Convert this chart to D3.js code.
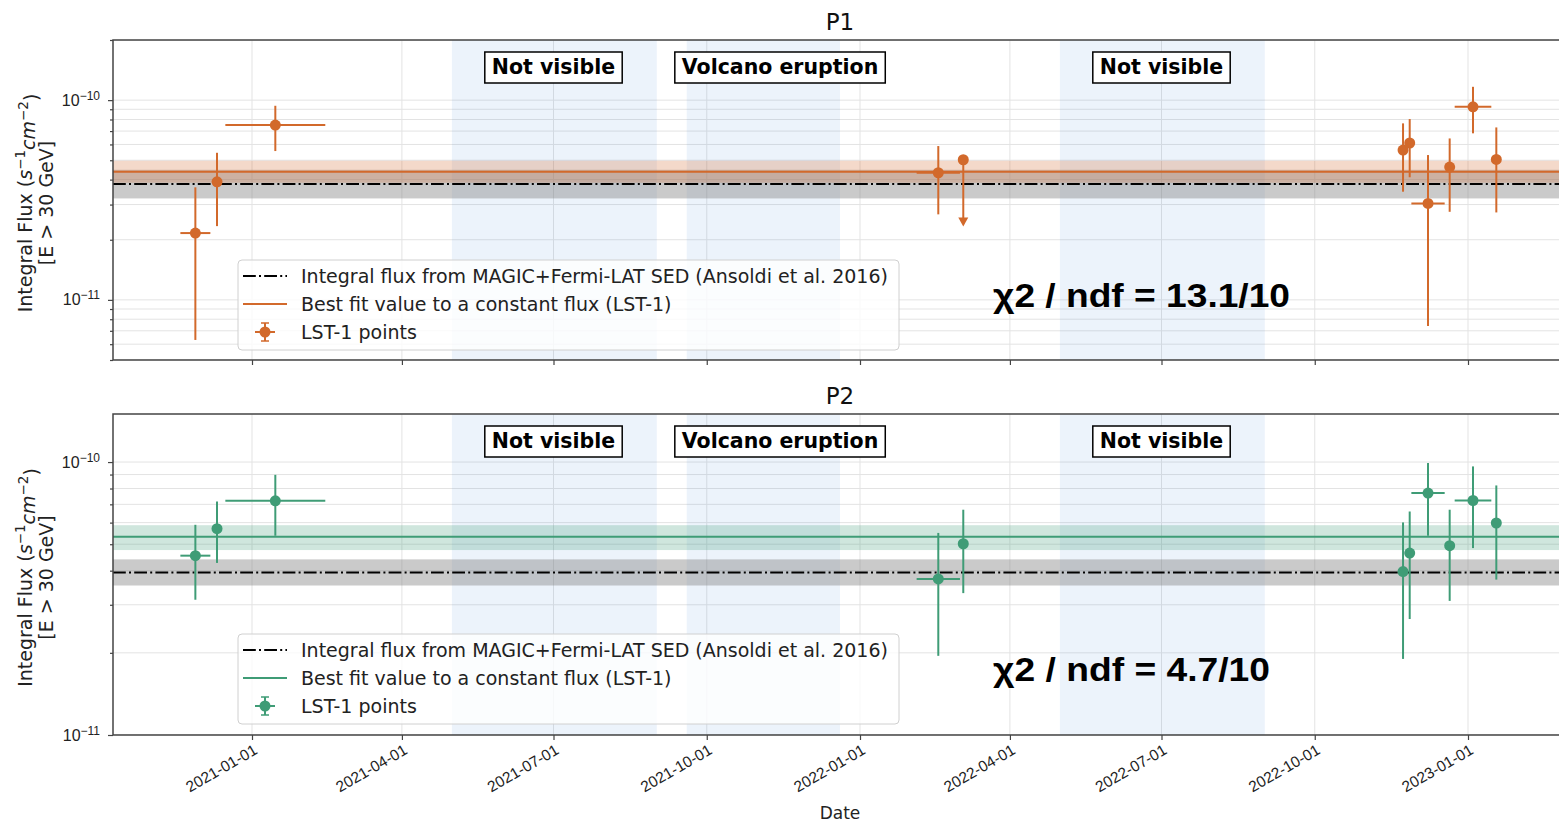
<!DOCTYPE html>
<html>
<head>
<meta charset="utf-8">
<script src="https://cdn.jsdelivr.net/npm/d3@7"></script>
<style>
body { margin: 0; background: #fff; }
svg { display: block; font-family: "DejaVu Sans", sans-serif; }
</style>
</head>
<body>
<script>
const WIDTH = 1559;
const HEIGHT = 825;
const PLOT_LEFT = 113;
const PLOT_RIGHT = 1585;

// observation dates (shared by both peaks) and half-width of the date bins, in days
var obsDates = ['2020-11-28','2020-12-11','2021-01-15','2022-02-17','2022-03-04','2022-11-23',
                '2022-11-27','2022-12-08','2022-12-21','2023-01-04','2023-01-18'];
var dateErrDays = [9, 3, 30, 13, 0, 1, 1, 10, 0, 11, 0];

// P1 integral flux, lower and upper error bounds (upper limit: low = arrow tip)
var p1Flux = [2.16e-11, 3.90e-11, 7.50e-11, 4.33e-11, 5.03e-11, 5.62e-11, 6.10e-11, 3.04e-11, 4.62e-11, 9.26e-11, 5.05e-11];
var p1Low  = [6.3e-12, 2.34e-11, 5.56e-11, 2.68e-11, 2.33e-11, 3.48e-11, 4.11e-11, 7.4e-12, 2.76e-11, 6.82e-11, 2.74e-11];
var p1High = [3.66e-11, 5.45e-11, 9.37e-11, 5.89e-11, 5.03e-11, 7.65e-11, 8.04e-11, 5.31e-11, 6.43e-11, 1.166e-10, 7.30e-11];
var p1UpperLimit = [false, false, false, false, true, false, false, false, false, false, false];

// P2 integral flux
var p2Flux = [4.54e-11, 5.70e-11, 7.21e-11, 3.73e-11, 5.02e-11, 3.97e-11, 4.64e-11, 7.70e-11, 4.94e-11, 7.23e-11, 5.98e-11];
var p2Low  = [3.13e-11, 4.27e-11, 5.37e-11, 1.95e-11, 3.31e-11, 1.90e-11, 2.66e-11, 5.37e-11, 3.10e-11, 4.84e-11, 3.71e-11];
var p2High = [5.89e-11, 7.17e-11, 8.98e-11, 5.50e-11, 6.69e-11, 6.01e-11, 6.59e-11, 9.92e-11, 6.69e-11, 9.64e-11, 8.21e-11];
var p2UpperLimit = [false, false, false, false, false, false, false, false, false, false, false];

// reference flux (MAGIC+Fermi-LAT) and constant fit, per peak
var panelNames = ['P1', 'P2'];
var refFlux = [3.80e-11, 3.94e-11];
var refLow  = [3.22e-11, 3.53e-11];
var refHigh = [4.48e-11, 4.40e-11];
var fitFlux = [4.38e-11, 5.32e-11];
var fitLow  = [3.86e-11, 4.76e-11];
var fitHigh = [4.97e-11, 5.87e-11];
var chiLabels = ['\u03c72 / ndf = 13.1/10', '\u03c72 / ndf = 4.7/10'];
var yDomains = [[5e-12, 2e-10], [1e-11, 1.5e-10]];
var yMajorTicks = [[1e-11, 1e-10], [1e-11, 1e-10]];

// periods without data
var shadeStart = ['2021-05-01', '2021-09-19', '2022-05-01'];
var shadeEnd   = ['2021-09-01', '2021-12-20', '2022-09-01'];
var shadeLabels = ['Not visible', 'Volcano eruption', 'Not visible'];
var shadeLabelDates = ['2021-07-01', '2021-11-14', '2022-07-01'];

var xTicks = ['2021-01-01','2021-04-01','2021-07-01','2021-10-01','2022-01-01',
              '2022-04-01','2022-07-01','2022-10-01','2023-01-01'];
var legendLabels = ['Integral flux from MAGIC+Fermi-LAT SED (Ansoldi et al. 2016)',
                    'Best fit value to a constant flux (LST-1)',
                    'LST-1 points'];

const COLORS = ['#d2692b', '#3f9c76'];
const BAND_COLORS = ['rgba(210,105,43,0.25)', 'rgba(63,156,118,0.25)'];
const GRID = '#e3e3e3';
const SPINE = '#444';

var parse = d3.utcParse('%Y-%m-%d');
var panels = [{top: 40, bottom: 360}, {top: 414, bottom: 735}];
var series = [
	{flux: p1Flux, low: p1Low, high: p1High, ul: p1UpperLimit},
	{flux: p2Flux, low: p2Low, high: p2High, ul: p2UpperLimit}
];

var svg = d3.select('body').append('svg').attr('width', WIDTH).attr('height', HEIGHT);
var defs = svg.append('defs');

var x = d3.scaleUtc()
	.domain([parse(xTicks[0]), parse(xTicks[xTicks.length - 1])])
	.range([252, 1468]);

var addDays = function(dateStr, days) {
	return d3.utcDay.offset(parse(dateStr), days);
};

var logValues = function(domain) {
	var vals = [];
	for (var k = -13; k <= -9; k++) {
		for (var m = 1; m <= 9; m++) {
			var v = m * Math.pow(10, k);
			if (v >= domain[0] * 0.999 && v <= domain[1] * 1.001) vals.push(v);
		}
	}
	return vals;
};

var drawPanel = function(i) {
	var p = panels[i];
	var color = COLORS[i];
	var s = series[i];
	var y = d3.scaleLog().domain(yDomains[i]).range([p.bottom, p.top]);

	defs.append('clipPath').attr('id', 'clip' + i)
		.append('rect')
		.attr('x', PLOT_LEFT).attr('y', p.top)
		.attr('width', PLOT_RIGHT - PLOT_LEFT).attr('height', p.bottom - p.top);

	var g = svg.append('g').attr('clip-path', 'url(#clip' + i + ')');

	// grid
	g.append('g').selectAll('line.hgrid')
		.data(logValues(yDomains[i]))
		.enter().append('line')
		.attr('x1', PLOT_LEFT).attr('x2', PLOT_RIGHT)
		.attr('y1', function(d) { return y(d); })
		.attr('y2', function(d) { return y(d); })
		.attr('stroke', GRID).attr('stroke-width', 1);
	g.append('g').selectAll('line.vgrid')
		.data(xTicks)
		.enter().append('line')
		.attr('x1', function(d) { return x(parse(d)); })
		.attr('x2', function(d) { return x(parse(d)); })
		.attr('y1', p.top).attr('y2', p.bottom)
		.attr('stroke', GRID).attr('stroke-width', 1);

	// shaded periods
	g.append('g').selectAll('rect')
		.data(shadeStart)
		.enter().append('rect')
		.attr('x', function(d) { return x(parse(d)); })
		.attr('width', function(d, j) { return x(parse(shadeEnd[j])) - x(parse(d)); })
		.attr('y', p.top).attr('height', p.bottom - p.top)
		.attr('fill', 'rgba(70,140,220,0.1)');

	// reference band + line
	g.append('rect')
		.attr('x', PLOT_LEFT).attr('width', PLOT_RIGHT - PLOT_LEFT)
		.attr('y', y(refHigh[i])).attr('height', y(refLow[i]) - y(refHigh[i]))
		.attr('fill', 'rgba(128,128,128,0.42)');
	g.append('rect')
		.attr('x', PLOT_LEFT).attr('width', PLOT_RIGHT - PLOT_LEFT)
		.attr('y', y(fitHigh[i])).attr('height', y(fitLow[i]) - y(fitHigh[i]))
		.attr('fill', BAND_COLORS[i]);
	g.append('line')
		.attr('x1', PLOT_LEFT).attr('x2', PLOT_RIGHT)
		.attr('y1', y(refFlux[i])).attr('y2', y(refFlux[i]))
		.attr('stroke', '#000').attr('stroke-width', 2)
		.attr('stroke-dasharray', '12.8,3.2,2,3.2');
	g.append('line')
		.attr('x1', PLOT_LEFT).attr('x2', PLOT_RIGHT)
		.attr('y1', y(fitFlux[i])).attr('y2', y(fitFlux[i]))
		.attr('stroke', color).attr('stroke-width', 2);

	// points with error bars
	var pts = g.append('g').selectAll('g')
		.data(obsDates)
		.enter().append('g');
	pts.append('line')
		.attr('x1', function(d) { return x(parse(d)); })
		.attr('x2', function(d) { return x(parse(d)); })
		.attr('y1', function(d, j) { return y(s.high[j]); })
		.attr('y2', function(d, j) { return s.ul[j] ? y(s.low[j]) - 8 : y(s.low[j]); })
		.attr('stroke', color).attr('stroke-width', 2);
	pts.filter(function(d, j) { return dateErrDays[j] > 0; })
		.append('line')
		.attr('x1', function(d) { return x(addDays(d, -dateErrDays[obsDates.indexOf(d)])); })
		.attr('x2', function(d) { return x(addDays(d, dateErrDays[obsDates.indexOf(d)])); })
		.attr('y1', function(d) { return y(s.flux[obsDates.indexOf(d)]); })
		.attr('y2', function(d) { return y(s.flux[obsDates.indexOf(d)]); })
		.attr('stroke', color).attr('stroke-width', 2);
	pts.filter(function(d, j) { return s.ul[j]; })
		.append('path')
		.attr('d', function(d) {
			var cx = x(parse(d)), ty = y(s.low[obsDates.indexOf(d)]);
			return 'M' + (cx - 5) + ',' + (ty - 9) + 'L' + (cx + 5) + ',' + (ty - 9) + 'L' + cx + ',' + ty + 'Z';
		})
		.attr('fill', color);
	pts.append('circle')
		.attr('cx', function(d) { return x(parse(d)); })
		.attr('cy', function(d, j) { return y(s.flux[j]); })
		.attr('r', 5.5)
		.attr('fill', color);

	// labels of shaded periods
	var boxes = svg.append('g').selectAll('g')
		.data(shadeLabels)
		.enter().append('g');
	boxes.append('text')
		.attr('x', function(d, j) { return x(parse(shadeLabelDates[j])); })
		.attr('y', p.top + 27)
		.attr('text-anchor', 'middle')
		.attr('dominant-baseline', 'central')
		.attr('font-size', 20.5)
		.attr('font-weight', 'bold')
		.text(function(d) { return d; });
	boxes.each(function() {
		var b = d3.select(this).select('text').node().getBBox();
		d3.select(this).insert('rect', 'text')
			.attr('x', b.x - 7).attr('y', p.top + 12)
			.attr('width', b.width + 14).attr('height', 31)
			.attr('fill', '#fff').attr('stroke', '#000').attr('stroke-width', 1.5);
	});

	// legend
	var lg = svg.append('g').attr('transform', 'translate(238,' + (p.top + 220) + ')');
	lg.append('rect')
		.attr('width', 661).attr('height', 90).attr('rx', 4)
		.attr('fill', 'rgba(255,255,255,0.8)').attr('stroke', '#d0d0d0');
	lg.append('line').attr('x1', 5).attr('x2', 49).attr('y1', 16).attr('y2', 16)
		.attr('stroke', '#000').attr('stroke-width', 2).attr('stroke-dasharray', '12.8,3.2,2,3.2');
	lg.append('line').attr('x1', 5).attr('x2', 49).attr('y1', 44).attr('y2', 44)
		.attr('stroke', color).attr('stroke-width', 2);
	var h = lg.append('g').attr('transform', 'translate(27,72)');
	h.append('line').attr('x1', -10).attr('x2', 10).attr('stroke', color).attr('stroke-width', 2);
	h.append('line').attr('y1', -9).attr('y2', 9).attr('stroke', color).attr('stroke-width', 2);
	h.append('line').attr('x1', -4).attr('x2', 4).attr('y1', -9).attr('y2', -9).attr('stroke', color).attr('stroke-width', 1.5);
	h.append('line').attr('x1', -4).attr('x2', 4).attr('y1', 9).attr('y2', 9).attr('stroke', color).attr('stroke-width', 1.5);
	h.append('circle').attr('r', 5.5).attr('fill', color);
	lg.selectAll('text.lab')
		.data(legendLabels)
		.enter().append('text')
		.attr('x', 63)
		.attr('y', function(d, j) { return 16 + 28 * j; })
		.attr('dy', '0.36em')
		.attr('font-size', 19)
		.attr('fill', '#222')
		.text(function(d) { return d; });

	// chi2 annotation
	svg.append('text')
		.attr('x', 993).attr('y', p.top + 267)
		.attr('font-family', '"Liberation Sans", Arial, sans-serif')
		.attr('font-weight', 'bold')
		.attr('font-size', 33)
		.attr('textLength', i === 0 ? 297 : 277)
		.attr('lengthAdjust', 'spacingAndGlyphs')
		.text(chiLabels[i]);

	// axes
	var yMinor = logValues(yDomains[i]).filter(function(v) { return yMajorTicks[i].indexOf(v) < 0; });
	var yAxisMinor = svg.append('g').attr('transform', 'translate(' + PLOT_LEFT + ',0)')
		.call(d3.axisLeft(y).tickValues(yMinor).tickSize(3).tickFormat(''));
	var yAxis = svg.append('g').attr('transform', 'translate(' + PLOT_LEFT + ',0)')
		.call(d3.axisLeft(y).tickValues(yMajorTicks[i]).tickSize(5).tickPadding(8)
			.tickFormat(''));
	[yAxisMinor, yAxis].forEach(function(a) {
		a.select('.domain').remove();
		a.selectAll('line').attr('stroke', SPINE).attr('stroke-width', 1.2);
	});
	yAxis.selectAll('.tick text')
		.style('font-size', '16px').attr('fill', '#222')
		.each(function(d) {
			var t = d3.select(this);
			t.append('tspan').text('10');
			t.append('tspan').attr('dy', '-0.5em').style('font-size', '12px')
				.text('\u2212' + Math.round(-Math.log10(d)));
		});

	var xAxis = svg.append('g').attr('transform', 'translate(0,' + p.bottom + ')')
		.call(d3.axisBottom(x).tickValues(xTicks.map(parse)).tickSize(5)
			.tickFormat(i === 1 ? d3.utcFormat('%Y-%m-%d') : ''));
	xAxis.select('.domain').remove();
	xAxis.selectAll('line').attr('stroke', SPINE).attr('stroke-width', 1.2);
	xAxis.selectAll('text')
		.style('font-size', '15.5px').attr('fill', '#222')
		.attr('text-anchor', 'end')
		.attr('y', 0).attr('dy', 0)
		.attr('transform', 'translate(6,18) rotate(-30)');

	// spines
	svg.append('path')
		.attr('d', 'M' + PLOT_RIGHT + ',' + p.top + 'H' + PLOT_LEFT + 'V' + p.bottom + 'H' + PLOT_RIGHT)
		.attr('fill', 'none').attr('stroke', SPINE).attr('stroke-width', 1.5);

	// y label
	var cy = (p.top + p.bottom) / 2 + 3;
	var yl = svg.append('text')
		.attr('transform', 'translate(32,' + cy + ') rotate(-90)')
		.attr('text-anchor', 'middle')
		.attr('font-size', 19).attr('fill', '#222');
	yl.append('tspan').text('Integral Flux (');
	yl.append('tspan').attr('font-style', 'italic').text('s');
	yl.append('tspan').attr('dy', '-0.5em').attr('font-size', 13.5).text('\u22121');
	yl.append('tspan').attr('dy', '0.5em').attr('font-style', 'italic').text('cm');
	yl.append('tspan').attr('dy', '-0.5em').attr('font-size', 13.5).text('\u22122');
	yl.append('tspan').attr('dy', '0.5em').text(')');
	svg.append('text')
		.attr('transform', 'translate(53,' + cy + ') rotate(-90)')
		.attr('text-anchor', 'middle')
		.attr('font-size', 19).attr('fill', '#222')
		.text('[E > 30 GeV]');

	// title
	svg.append('text')
		.attr('x', 840).attr('y', p.top - 10)
		.attr('text-anchor', 'middle')
		.attr('font-size', 23).attr('fill', '#111')
		.text(panelNames[i]);
};

drawPanel(0);
drawPanel(1);

svg.append('text')
	.attr('x', 840).attr('y', 819)
	.attr('text-anchor', 'middle')
	.attr('font-size', 17).attr('fill', '#222')
	.text('Date');
</script>
</body>
</html>
